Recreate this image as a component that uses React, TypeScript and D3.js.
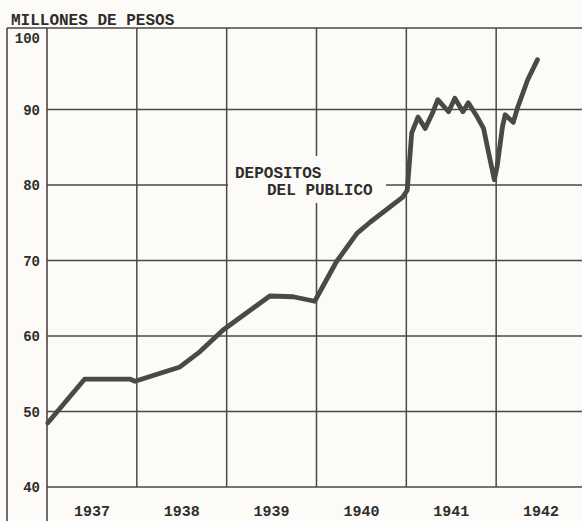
import React from "react";
import * as d3 from "d3";

const years = [1937, 1938, 1939, 1940, 1941, 1942];
const yTicks = [100, 90, 80, 70, 60, 50, 40];
const gridYears = [1938, 1939, 1940, 1941, 1942];

// decimal year, millions of pesos
const dates = [
  1937.01, 1937.42, 1937.92, 1937.98, 1938.48, 1938.7, 1938.96, 1939.48, 1939.74, 1939.98,
  1940.22, 1940.45, 1940.6, 1940.96, 1941.01, 1941.06, 1941.13, 1941.21, 1941.29, 1941.35,
  1941.47, 1941.54, 1941.63, 1941.69, 1941.79, 1941.86, 1941.91, 1941.98, 1942.01, 1942.07,
  1942.1, 1942.19, 1942.24, 1942.35, 1942.46,
];
const deposits = [
  48.5, 54.3, 54.3, 54.0, 55.9, 57.9, 60.8, 65.3, 65.2, 64.6,
  69.8, 73.6, 75.1, 78.4, 79.3, 86.9, 89.0, 87.5, 89.5, 91.3,
  89.7, 91.5, 89.7, 90.9, 89.0, 87.5, 84.6, 80.7, 82.4, 87.7,
  89.3, 88.3, 90.3, 93.9, 96.6,
];

const W = 582;
const H = 521;
const FONT = "'Liberation Mono', 'DejaVu Sans Mono', monospace";
const INK = "#4a4846";
const TXT = "#2f2d2b";

export default function App() {
  const x = d3.scaleLinear().domain([1937, 1943]).range([47, 586]);
  const y = d3.scaleLinear().domain([40, 100]).range([487, 34]);
  const line = d3
    .line<number>()
    .x((_, i) => x(dates[i]))
    .y((d) => y(d))
    .curve(d3.curveLinear);

  return (
    <svg
      width={W}
      height={H}
      style={{ position: "absolute", left: 0, top: 0, background: "#fcfbf8" }}
    >
      <rect x={0} y={0} width={W} height={H} fill="#fcfbf8" />
      {/* frame */}
      <line x1={7} y1={28} x2={W} y2={28} stroke={INK} strokeWidth={1.6} />
      <line x1={7} y1={28} x2={7} y2={H} stroke={INK} strokeWidth={1.6} />
      <line x1={47} y1={28} x2={47} y2={H} stroke={INK} strokeWidth={1.6} />
      {/* horizontal grid */}
      {yTicks
        .filter((t) => t < 100)
        .map((t) => (
          <line key={t} x1={47} x2={W} y1={y(t)} y2={y(t)} stroke={INK} strokeWidth={1.5} />
        ))}
      {/* vertical grid */}
      {gridYears.map((g) => (
        <line key={g} x1={x(g)} x2={x(g)} y1={28} y2={y(40)} stroke={INK} strokeWidth={1.5} />
      ))}
      {/* label box */}
      <rect x={228} y={156} width={158} height={47} fill="#fcfbf8" />
      <text x={235} y={178} fontFamily={FONT} fontSize={16} fontWeight={600} fill={TXT}>
        DEPOSITOS
      </text>
      <text x={267} y={195} fontFamily={FONT} fontSize={16} fontWeight={600} fill={TXT}>
        DEL PUBLICO
      </text>
      {/* series */}
      <path
        d={line(deposits) || ""}
        fill="none"
        stroke="#4b4948"
        strokeWidth={4.8}
        strokeLinejoin="round"
        strokeLinecap="round"
      />
      {/* y labels */}
      {yTicks.map((t) => (
        <text
          key={t}
          x={40}
          y={t === 100 ? 43 : y(t) + 5}
          textAnchor="end"
          fontFamily={FONT}
          fontSize={14}
          fontWeight={600}
          fill={TXT}
        >
          {t}
        </text>
      ))}
      {/* x labels */}
      {years.map((yr) => (
        <text
          key={yr}
          x={x(yr + 0.5)}
          y={516}
          textAnchor="middle"
          fontFamily={FONT}
          fontSize={15}
          fontWeight={600}
          fill={TXT}
        >
          {yr}
        </text>
      ))}
      <text x={11} y={25} fontFamily={FONT} fontSize={16} fontWeight={600} fill={TXT}>
        MILLONES DE PESOS
      </text>
    </svg>
  );
}
